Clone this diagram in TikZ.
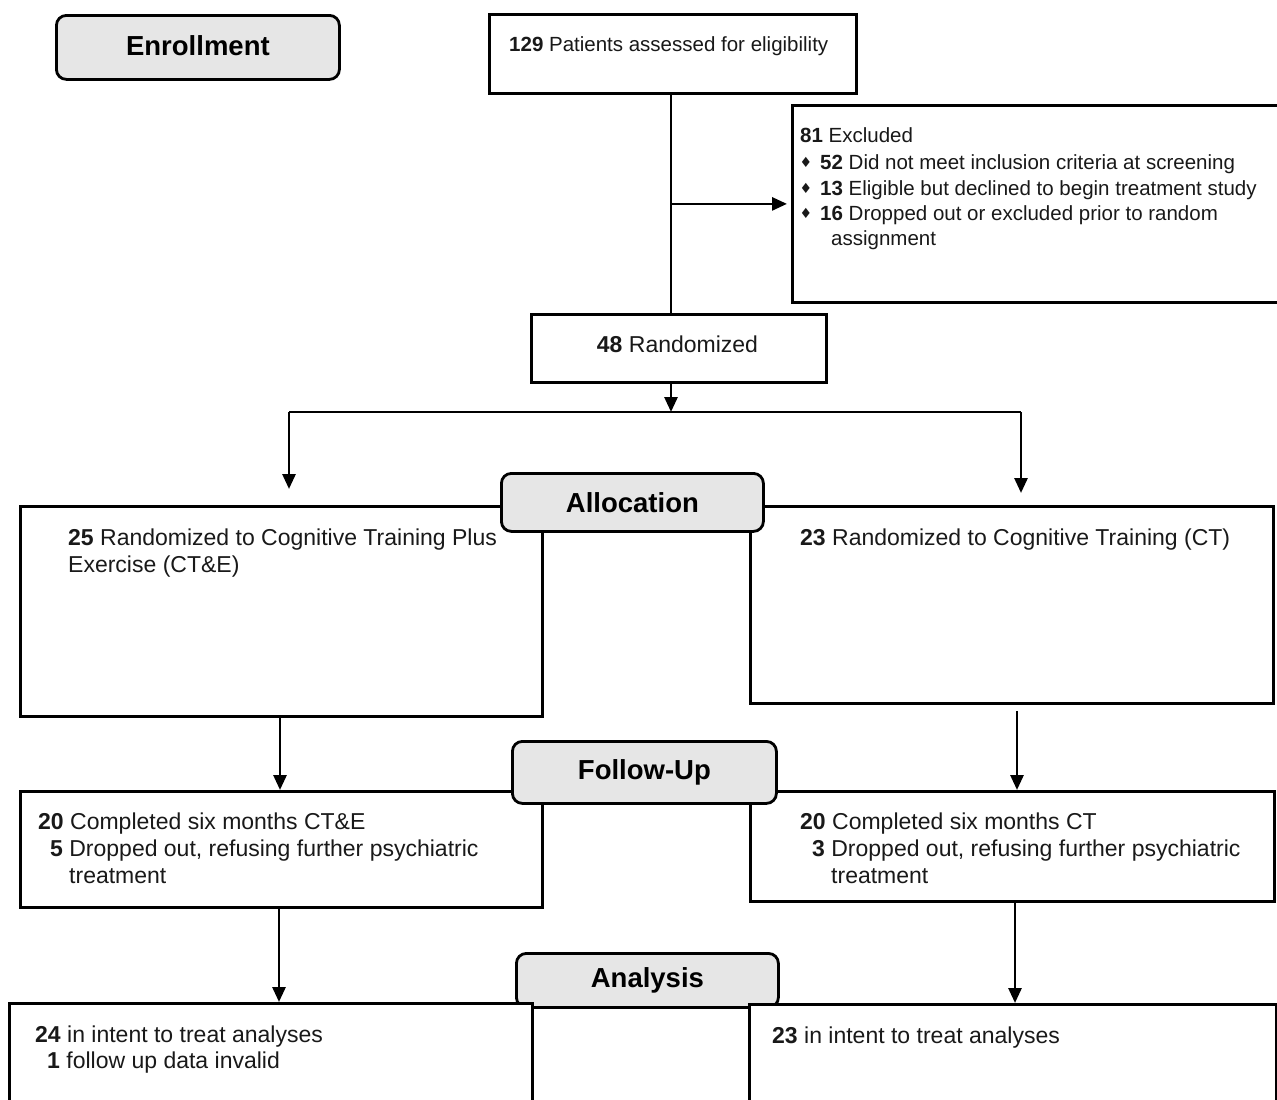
\documentclass[tikz,border=0pt]{standalone}
\usepackage{fontspec}
\setmainfont{Liberation Sans}
\newfontfamily\symfont{DejaVu Sans}
\usetikzlibrary{arrows.meta}
\definecolor{hdrgray}{RGB}{230,230,230}
\definecolor{ink}{RGB}{25,25,25}
\tikzset{
  box/.style={draw=black, line width=2.8pt, fill=white, inner sep=0pt, anchor=north west},
  hdr/.style={draw=black, line width=2.8pt, fill=hdrgray, rounded corners=10pt, inner sep=0pt, anchor=north west, font=\fontsize{27.5}{30}\selectfont\bfseries},
  txt/.style={anchor=base west, inner sep=0pt, text=ink, font=\fontsize{20.5}{24}\selectfont},
  txtL/.style={anchor=base west, inner sep=0pt, text=ink, font=\fontsize{23}{27}\selectfont},
  bul/.style={anchor=base, inner sep=0pt, text=ink, font=\symfont\fontsize{14}{14}\selectfont},
  arr/.style={-{Triangle[length=15pt,width=13pt]}, line width=2.8pt},
  ln/.style={line width=2.8pt},
}
\begin{document}
\begin{tikzpicture}[x=1pt,y=-1pt]
\useasboundingbox (0,0) rectangle (1277,1100);
\clip (0,0) rectangle (1277,1100);
\fill[white] (0,0) rectangle (1277,1100);

% Enrollment
\node[hdr, minimum width=283pt, minimum height=64pt] (enr) at (55,14) {\raisebox{3pt}{Enrollment}};
\node[box, minimum width=367pt, minimum height=79pt] (pat) at (488,13) {};
\node[txt] (patT) at (509,51) {\textbf{129} Patients assessed for eligibility};

\node[box, minimum width=500pt, minimum height=197pt] (excl) at (791,104) {};
\node[txt] (ex1) at (800,142) {\textbf{81} Excluded};
\node[bul] (b1) at (806,167) {♦};
\node[txt] (ex2) at (820,169) {\textbf{52} Did not meet inclusion criteria at screening};
\node[bul] (b2) at (806,193) {♦};
\node[txt] (ex3) at (820,195) {\textbf{13} Eligible but declined to begin treatment study};
\node[bul] (b3) at (806,218) {♦};
\node[txt] (ex4) at (820,220) {\textbf{16} Dropped out or excluded prior to random};
\node[txt] (ex5) at (831,245) {assignment};

\node[box, minimum width=295pt, minimum height=68pt] (rand) at (530,313) {};
\node[txtL, anchor=base] (randT) at (677.5,352) {\textbf{48} Randomized};

\coordinate (split) at (671,412);
\coordinate (sL) at (289,412);
\coordinate (sR) at (1021,412);
\coordinate (ex) at (split |- excl.west);

\draw[ln] (pat.south -| split) -- (rand.north -| split);
\draw[arr, shorten >=4pt] (ex) -- (excl.west);
\draw[arr] (rand.south -| split) -- (split);
\draw[ln] (sL) -- (sR);

% Allocation
\node[box, minimum width=522pt, minimum height=210pt] (cte) at (19,505) {};
\node[box, minimum width=523pt, minimum height=197pt] (ct) at (749,505) {};
\node[hdr, minimum width=262pt, minimum height=58pt] (alloc) at (500,472) {Allocation};
\node[txtL] (cte1) at (68,545) {\textbf{25} Randomized to Cognitive Training Plus};
\node[txtL] (cte2) at (68,572) {Exercise (CT\&E)};
\node[txtL] (ct1) at (800,545) {\textbf{23} Randomized to Cognitive Training (CT)};

\draw[arr, shorten >=16pt] (sL) -- (sL |- cte.north);
\draw[arr, shorten >=12pt] (sR) -- (sR |- ct.north);

% Follow-up
\node[box, minimum width=522pt, minimum height=116pt] (folL) at (19,790) {};
\node[box, minimum width=524pt, minimum height=110pt] (folR) at (749,790) {};
\node[hdr, minimum width=264pt, minimum height=62pt] (fol) at (511,740) {Follow-Up};
\node[txtL] (fl1) at (38,829) {\textbf{20} Completed six months CT\&E};
\node[txtL] (fl2) at (50,856) {\textbf{5} Dropped out, refusing further psychiatric};
\node[txtL] (fl3) at (69,883) {treatment};
\node[txtL] (fr1) at (800,829) {\textbf{20} Completed six months CT};
\node[txtL] (fr2) at (812,856) {\textbf{3} Dropped out, refusing further psychiatric};
\node[txtL] (fr3) at (831,883) {treatment};

\coordinate (c1) at (280,0);
\coordinate (c2) at (1017,0);
\draw[arr] (cte.south -| c1) -- (folL.north -| c1);
\draw[arr, shorten <=6pt] (ct.south -| c2) -- (folR.north -| c2);

% Analysis
\node[hdr, minimum width=262pt, minimum height=54pt] (ana) at (515,952) {\raisebox{-1pt}{Analysis}};
\node[box, minimum width=523pt, minimum height=150pt] (anaL) at (8,1002) {};
\node[box, minimum width=527pt, minimum height=150pt] (anaR) at (748,1003) {};
\node[txtL] (al1) at (35,1042) {\textbf{24} in intent to treat analyses};
\node[txtL] (al2) at (47,1068) {\textbf{1} follow up data invalid};
\node[txtL] (ar1) at (772,1043) {\textbf{23} in intent to treat analyses};

\coordinate (c3) at (279,0);
\coordinate (c4) at (1015,0);
\draw[arr] (folL.south -| c3) -- (anaL.north -| c3);
\draw[arr] (folR.south -| c4) -- (anaR.north -| c4);
\end{tikzpicture}
\end{document}
